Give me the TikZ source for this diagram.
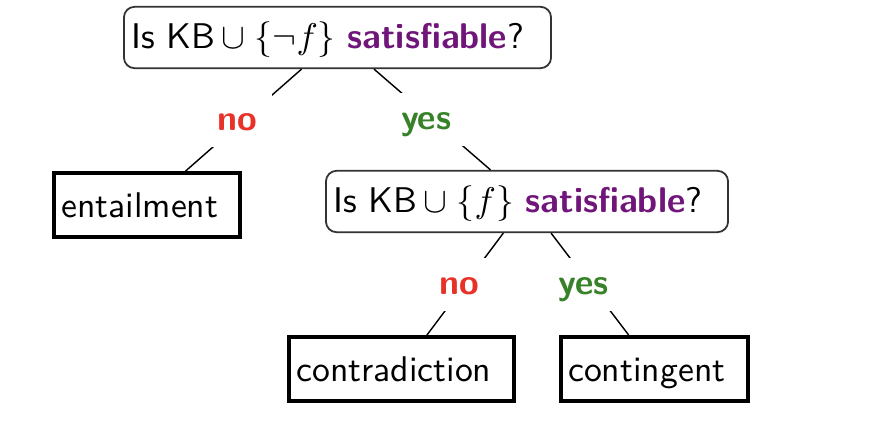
\documentclass[tikz,border=0pt]{standalone}
\usetikzlibrary{positioning,quotes}

\definecolor{satpurple}{RGB}{112,22,122}
\definecolor{nored}{RGB}{232,50,40}
\definecolor{yesgreen}{RGB}{55,130,40}
\newcommand{\sat}{\textcolor{satpurple}{\textbf{satisfiable}}}

\tikzset{
    question/.style={draw=black!80, line width=0.5pt, rounded corners=3pt,
        align=left, inner xsep=2pt, text height=8pt, text depth=2pt, minimum height=17.2pt},
    verdict/.style={draw, line width=1.2pt, align=left, inner xsep=2pt,
        text height=8pt, text depth=1pt, minimum height=17.8pt},
}

\begin{document}
\begin{tikzpicture}[x=0.28pt,y=-0.28pt,font=\sffamily]
\useasboundingbox (0,0) rectangle (894,428);
\draw[
    line width=0.4pt,
    every edge quotes/.style={fill=white, inner sep=4pt, xshift=-1.7pt,
        text height=6.2pt, text depth=0.6pt, font=\sffamily\bfseries},
]
(337.5,37.5) node[question, text width=115.6pt] (q1) {Is KB\,$\cup\;\{\neg f\}$ \sat?}
(147,205) node[verdict, text width=48pt] (ent) {entailment\ }
(527,201.5) node[question, text width=108.6pt] (q2) {Is KB\,$\cup\;\{f\}$ \sat?}
(401.5,369) node[verdict, text width=58.9pt] (contra) {contradiction\ }
(654.5,369) node[verdict, text width=48.3pt] (conting) {contingent\ }
(q1) edge["no" text=nored] (ent)
(q1) edge["yes" text=yesgreen] (q2)
(q2) edge["no" text=nored] (contra)
(q2) edge["yes" text=yesgreen] (conting)
;
\end{tikzpicture}
\end{document}
